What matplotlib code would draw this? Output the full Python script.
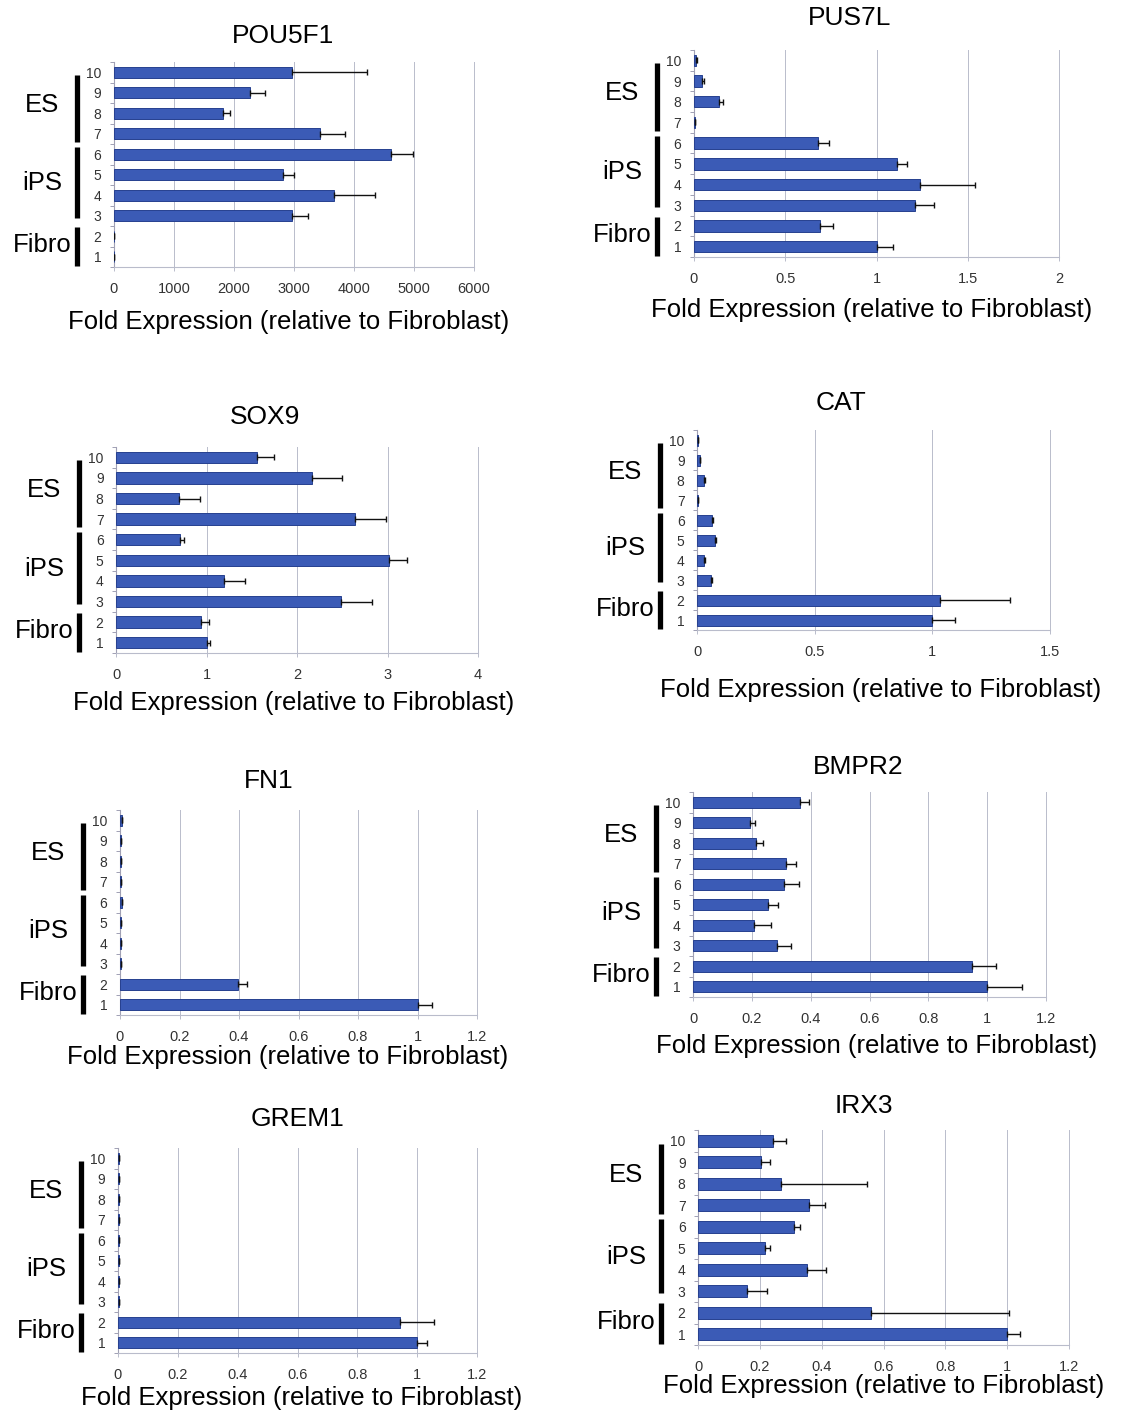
import numpy as np
import matplotlib
matplotlib.use("Agg")
import matplotlib.pyplot as plt
from matplotlib.transforms import blended_transform_factory
from matplotlib.ticker import FixedLocator

plt.rcParams['font.family'] = ['Liberation Sans', 'DejaVu Sans']

# === Samples (1 at the bottom, 10 at the top) ===
samples = np.arange(1, 11)
sample_labels = [str(s) for s in samples]

group_names = ["Fibro", "iPS", "ES"]
group_spans = [(0.55, 2.45), (2.9, 6.35), (6.6, 9.85)]
group_label_y = [1.55, 4.6, 8.4]

# === Fold expression per sample (samples 1..10) and upper error ===
pou5f1 = [1.0, 1.3, 2960, 3670, 2820, 4610, 3440, 1810, 2260, 2960]
pou5f1_err = [0.1, 0.2, 280, 680, 180, 380, 410, 130, 250, 1260]

pus7l = [1.0, 0.69, 1.21, 1.24, 1.11, 0.68, 0.004, 0.137, 0.046, 0.013]
pus7l_err = [0.09, 0.073, 0.107, 0.30, 0.055, 0.06, 0.002, 0.022, 0.01, 0.004]

sox9 = [1.0, 0.935, 2.49, 1.19, 3.02, 0.707, 2.64, 0.695, 2.17, 1.56]
sox9_err = [0.04, 0.095, 0.34, 0.23, 0.2, 0.045, 0.34, 0.23, 0.33, 0.19]

cat = [1.0, 1.033, 0.06, 0.03, 0.077, 0.065, 0.003, 0.03, 0.012, 0.005]
cat_err = [0.095, 0.295, 0.005, 0.003, 0.005, 0.005, 0.001, 0.003, 0.002, 0.001]

fn1 = [1.0, 0.398, 0.002, 0.002, 0.002, 0.006, 0.002, 0.002, 0.002, 0.006]
fn1_err = [0.05, 0.03, 0.001, 0.001, 0.001, 0.001, 0.001, 0.001, 0.001, 0.001]

bmpr2 = [1.0, 0.948, 0.286, 0.208, 0.254, 0.31, 0.316, 0.214, 0.195, 0.363]
bmpr2_err = [0.117, 0.082, 0.047, 0.057, 0.036, 0.05, 0.035, 0.024, 0.015, 0.03]

grem1 = [1.0, 0.943, 0.003, 0.003, 0.003, 0.003, 0.003, 0.003, 0.003, 0.003]
grem1_err = [0.033, 0.114, 0.001, 0.001, 0.001, 0.001, 0.001, 0.001, 0.001, 0.001]

irx3 = [1.0, 0.558, 0.159, 0.351, 0.216, 0.31, 0.359, 0.27, 0.205, 0.243]
irx3_err = [0.043, 0.449, 0.065, 0.064, 0.018, 0.021, 0.051, 0.277, 0.029, 0.043]

# === Panel layout: (name, values, errors, x ticks, axes box in px, title xy, xlabel xy) ===
W, H = 1132, 1418
panels = [
    ("POU5F1", pou5f1, pou5f1_err, [0, 1000, 2000, 3000, 4000, 5000, 6000],
     (114, 474, 62, 267), (283, 36), (289, 322)),
    ("PUS7L", pus7l, pus7l_err, [0, 0.5, 1, 1.5, 2],
     (694, 1059, 50, 257), (850, 18), (872, 310)),
    ("SOX9", sox9, sox9_err, [0, 1, 2, 3, 4],
     (116, 478, 447, 653), (265, 417), (294, 703)),
    ("CAT", cat, cat_err, [0, 0.5, 1, 1.5],
     (697, 1050, 430, 630), (841, 403), (881, 690)),
    ("FN1", fn1, fn1_err, [0, 0.2, 0.4, 0.6, 0.8, 1, 1.2],
     (120, 477, 810, 1015), (269, 781), (288, 1057)),
    ("BMPR2", bmpr2, bmpr2_err, [0, 0.2, 0.4, 0.6, 0.8, 1, 1.2],
     (693, 1046, 792, 997), (858, 767), (877, 1046)),
    ("GREM1", grem1, grem1_err, [0, 0.2, 0.4, 0.6, 0.8, 1, 1.2],
     (118, 477, 1148, 1353), (297, 1119), (302, 1398)),
    ("IRX3", irx3, irx3_err, [0, 0.2, 0.4, 0.6, 0.8, 1, 1.2],
     (698, 1069, 1130, 1345), (864, 1106), (884, 1386)),
]

bar_color = "#3b5bb6"
bar_edge = "#26408f"
grid_color = "#b9bccb"

fig = plt.figure(figsize=(W / 100, H / 100), dpi=100)

for name, vals, errs, xticks, (l, r, t, b), (tx, ty), (lx, ly) in panels:
    ax = fig.add_axes([l / W, 1 - b / H, (r - l) / W, (b - t) / H])

    vals = np.asarray(vals, dtype=float)
    errs = np.asarray(errs, dtype=float)
    ax.barh(samples, vals, height=0.55, color=bar_color, edgecolor=bar_edge,
            linewidth=0.7, zorder=3)
    ax.errorbar(vals, samples, xerr=[np.zeros_like(errs), errs], fmt="none",
                ecolor="#111111", elinewidth=1.0, capsize=2.5, capthick=1.0, zorder=4)

    ax.set_xlim(xticks[0], xticks[-1])
    ax.set_ylim(0.5, 10.5)

    # x axis: Excel-like vertical gridlines
    ax.set_xticks(xticks)
    ax.set_xticklabels([f"{v:g}" for v in xticks])
    ax.tick_params(axis="x", length=3, width=0.7, color=grid_color, pad=8,
                   labelsize=10.5, labelcolor="#333333")
    ax.grid(True, axis="x", color=grid_color, linewidth=0.7, zorder=0)

    # y axis: sample numbers with small separator ticks between rows
    ax.set_yticks(samples)
    ax.set_yticklabels(sample_labels)
    ax.yaxis.set_minor_locator(FixedLocator(np.arange(0.5, 11, 1.0)))
    ax.tick_params(axis="y", which="major", length=0, pad=9, labelsize=10,
                   labelcolor="#333333")
    ax.tick_params(axis="y", which="minor", length=3, width=0.7, color="#a0a0b4")

    ax.spines["top"].set_visible(False)
    ax.spines["right"].set_color(grid_color)
    ax.spines["right"].set_linewidth(0.7)
    ax.spines["left"].set_color("#a0a0b4")
    ax.spines["left"].set_linewidth(0.8)
    ax.spines["bottom"].set_color(grid_color)
    ax.spines["bottom"].set_linewidth(0.8)

    # cell-type groups: label plus thick bracket bar
    trans = blended_transform_factory(ax.transAxes, ax.transData)
    bx = -37 / (r - l)
    for gname, (g0, g1), gy in zip(group_names, group_spans, group_label_y):
        ax.plot([bx, bx], [g0, g1], color="black", linewidth=3.8,
                solid_capstyle="butt", transform=trans, clip_on=False)
        ax.text(-72 / (r - l), gy, gname, transform=trans, ha="center",
                va="center", fontsize=18.5, color="black")

    fig.text(tx / W, 1 - ty / H, name, ha="center", va="center", fontsize=19)
    fig.text(lx / W, 1 - ly / H, "Fold Expression (relative to Fibroblast)",
             ha="center", va="center", fontsize=18.5)

fig.savefig("out.png", dpi=100, facecolor="white")
